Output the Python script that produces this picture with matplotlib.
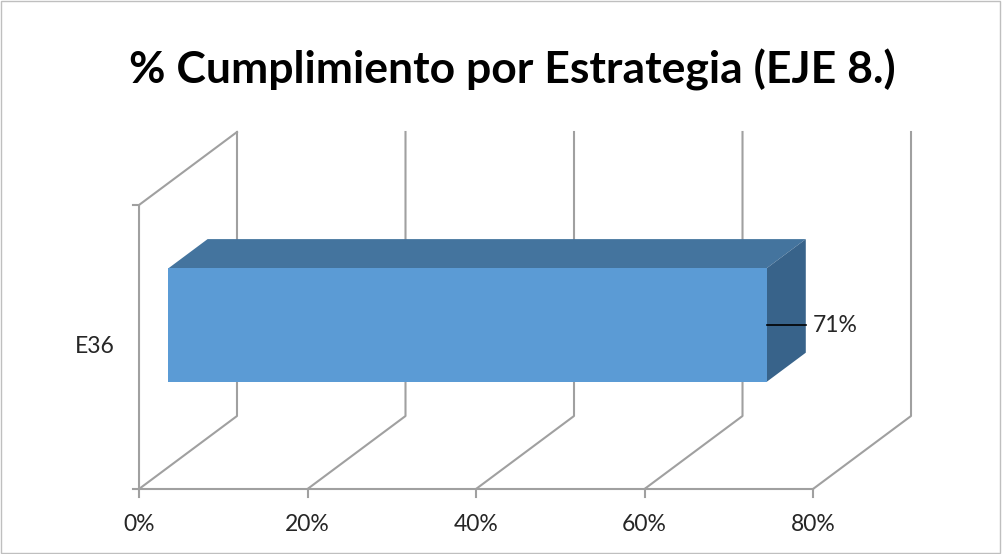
import matplotlib.pyplot as plt
from matplotlib.patches import Polygon, Rectangle

categories = ["E36"]
values = [0.71]
tick_vals = [0, 0.2, 0.4, 0.6, 0.8]
tick_labels = ["0%", "20%", "40%", "60%", "80%"]
title = "% Cumplimiento por Estrategia (EJE 8.)"

# fake 3d: depth offset of the back wall, in data units
dx, dy = 0.1163, 0.257
d0, d1 = 0.3, 0.7      # bar depth range
b0, b1 = 0.3, 0.7      # bar height range in the category band
grid_c = "#A0A0A0"
front_c, top_c, side_c = "#5B9BD5", "#44749E", "#38638A"
txt_c = "#262626"

fig = plt.figure(figsize=(10.02, 5.54), dpi=100)
ax = fig.add_axes([0, 0, 1, 1])
ax.set_xlim(-0.165, 1.0243)
ax.set_ylim(-0.2289, 1.7218)
ax.axis("off")

# grid / walls
for v in tick_vals:
    ax.plot([v, v + dx, v + dx], [0, dy, 1 + dy], color=grid_c, lw=1.5, zorder=1)
    ax.plot([v, v], [0, -0.028], color=grid_c, lw=1.5, zorder=1)
ax.plot([0, 0, dx], [0, 1, 1 + dy], color=grid_c, lw=1.5, zorder=1)
ax.plot([0, tick_vals[-1]], [0, 0], color=grid_c, lw=1.5, zorder=1)
for yy in [0, 1]:
    ax.plot([-0.007, 0], [yy, yy], color=grid_c, lw=1.5, zorder=1)

for i, (cat, val) in enumerate(zip(categories, values)):
    y0, y1 = i + b0, i + b1
    fx, fy = d0 * dx, d0 * dy
    bx, by = d1 * dx, d1 * dy
    front = [(fx, y0 + fy), (val + fx, y0 + fy), (val + fx, y1 + fy), (fx, y1 + fy)]
    top = [(fx, y1 + fy), (val + fx, y1 + fy), (val + bx, y1 + by), (bx, y1 + by)]
    side = [(val + fx, y0 + fy), (val + bx, y0 + by), (val + bx, y1 + by), (val + fx, y1 + fy)]
    ax.add_patch(Polygon(top, closed=True, fc=top_c, ec="none", zorder=3))
    ax.add_patch(Polygon(side, closed=True, fc=side_c, ec="none", zorder=3))
    ax.add_patch(Polygon(front, closed=True, fc=front_c, ec="none", zorder=4))
    ym = i + 0.5
    ax.plot([val + fx, val + bx], [ym + fy, ym + fy], color="black", lw=1.2, zorder=5)
    ax.text(val + bx + 0.008, ym + fy, f"{val:.0%}", fontsize=16.5, family="Lato",
            color=txt_c, va="center", ha="left")
    ax.text(-0.0285, ym, cat, fontsize=16.5, family="Lato", color=txt_c,
            va="center", ha="right")

for v, lab in zip(tick_vals, tick_labels):
    ax.text(v, -0.125, lab, fontsize=16.5, family="Lato", color=txt_c,
            ha="center", va="center")

fig.text(0.511, 0.850, title, fontsize=32, fontweight="bold", family="Lato",
         ha="center", va="baseline", color="black")

fig.add_artist(Rectangle((0.001, 0.001), 0.997, 0.997, transform=fig.transFigure,
                         fill=False, ec="#BFBFBF", lw=1))

fig.savefig("out.png", dpi=100)
